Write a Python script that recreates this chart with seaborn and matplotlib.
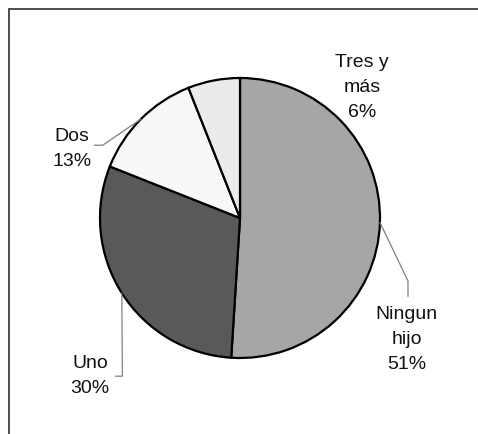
import numpy as np
import matplotlib
matplotlib.use("Agg")
import matplotlib.pyplot as plt
import seaborn as sns

# data
labels = ["Ningun\nhijo", "Uno", "Dos", "Tres y\nmás"]
shares = [51, 30, 13, 6]
colors = ["#a6a6a6", "#595959", "#f8f8f8", "#ebebeb"]

# label text positions (data units, pie radius = 1)
label_pos = [(1.19, -0.86), (-1.07, -1.12), (-1.2, 0.5), (0.87, 0.94)]
# elbow points for leader lines (None = no line)
elbows = [
    [(1.2, -0.45), (1.2, -0.56)],
    [(-0.84, -1.13), (-0.89, -1.13)],
    [(-0.98, 0.52), (-1.04, 0.52)],
    None,
]

sns.set_style("white")
plt.rcParams["font.family"] = ["Liberation Sans", "DejaVu Sans"]

W, H = 478, 435
fig = plt.figure(figsize=(W / 100, H / 100), dpi=100)
ax = fig.add_axes([0, 0, 1, 1])

# pie centre at pixel (240, 219 from top), radius 140 px
cx, cy, r = 240, 219, 140

wedges, _ = ax.pie(shares, colors=colors, startangle=90, counterclock=False,
                   radius=1, center=(0, 0), frame=False,
                   wedgeprops={"edgecolor": "black", "linewidth": 1.6})
ax.set_xlim(-cx / r, (W - cx) / r)
ax.set_ylim(-(H - cy) / r, cy / r)
ax.set_aspect("auto")
ax.axis("off")

for w, lab, pct, pos, elb in zip(wedges, labels, shares, label_pos, elbows):
    ax.text(pos[0], pos[1], f"{lab}\n{pct}%", ha="center", va="center",
            fontsize=14, linespacing=1.6, color="#111111")
    if elb is None:
        continue
    mid = np.deg2rad((w.theta1 + w.theta2) / 2)
    pts = [(np.cos(mid), np.sin(mid))] + elb
    xs, ys = zip(*pts)
    ax.plot(xs, ys, color="#808080", linewidth=0.9)

# outer frame (only top and left edges visible in the crop)
fig.add_artist(plt.Line2D([9 / W, 1], [1 - 10 / H, 1 - 10 / H],
                          transform=fig.transFigure, color="#404040", linewidth=1.3))
fig.add_artist(plt.Line2D([9 / W, 9 / W], [0, 1 - 10 / H],
                          transform=fig.transFigure, color="#404040", linewidth=1.3))

fig.savefig("out.png", dpi=100)
